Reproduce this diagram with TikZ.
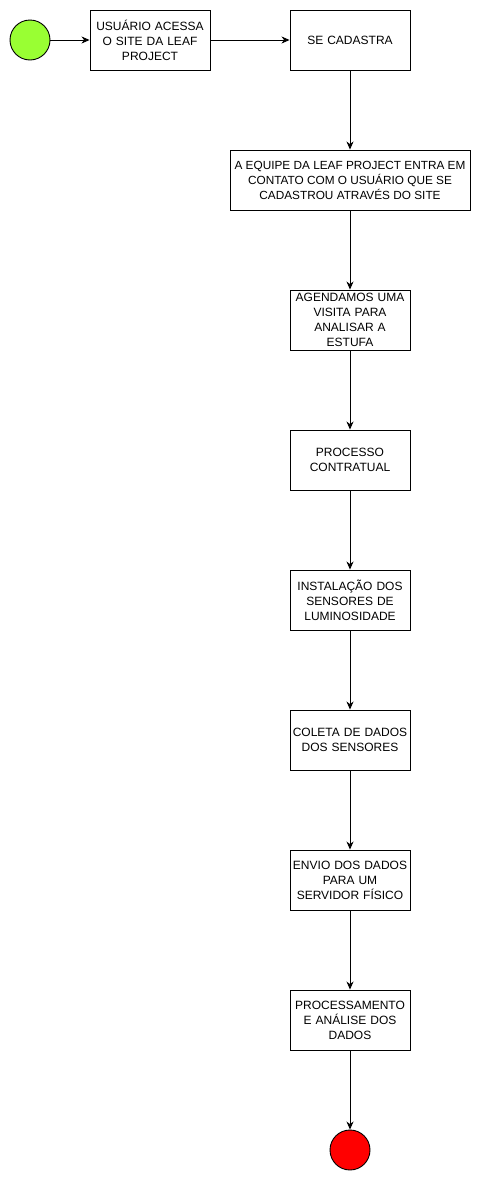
\documentclass[tikz,border=0pt]{standalone}
\usepackage{fontspec}
\setmainfont{Liberation Sans}
\usetikzlibrary{arrows.meta}
\definecolor{startgreen}{HTML}{99FF33}
\definecolor{endred}{HTML}{FF0000}
\begin{document}
\begin{tikzpicture}[x=1pt,y=-1pt,
  stepbox/.style={draw=black,line width=0.9pt,fill=white,align=center,inner sep=2pt,
    font=\fontsize{12}{15}\selectfont,minimum height=60pt},
  flow/.style={draw=black,line width=0.9pt,-{Stealth[length=8pt,width=7pt,inset=2.5pt]}},
  state/.style={circle,draw=black,line width=0.9pt,minimum size=40pt,inner sep=0pt}]
\useasboundingbox (0,0) rectangle (481,1181);
\node[state,fill=startgreen] (start) at (30,40) {};
\node[stepbox,minimum width=120pt,text width=116pt] (b1) at (150,40) {USUÁRIO ACESSA\\O SITE DA LEAF\\PROJECT};
\node[stepbox,minimum width=120pt,text width=116pt] (b2) at (350,40) {SE CADASTRA};
\node[stepbox,minimum width=240pt,font=\fontsize{11.8}{15}\selectfont] (b3) at (350,180) {A EQUIPE DA LEAF PROJECT ENTRA EM\\CONTATO COM O USUÁRIO QUE SE\\CADASTROU ATRAVÉS DO SITE};
\node[stepbox,minimum width=120pt,text width=116pt] (b4) at (350,320) {AGENDAMOS UMA\\VISITA PARA\\ANALISAR A\\ESTUFA};
\node[stepbox,minimum width=120pt,text width=116pt] (b5) at (350,460) {PROCESSO\\CONTRATUAL};
\node[stepbox,minimum width=120pt,text width=116pt] (b6) at (350,600) {INSTALAÇÃO DOS\\SENSORES DE\\LUMINOSIDADE};
\node[stepbox,minimum width=120pt,text width=116pt] (b7) at (350,740) {COLETA DE DADOS\\DOS SENSORES};
\node[stepbox,minimum width=120pt,text width=116pt] (b8) at (350,880) {ENVIO DOS DADOS\\PARA UM\\SERVIDOR FÍSICO};
\node[stepbox,minimum width=120pt,text width=116pt] (b9) at (350,1020) {PROCESSAMENTO\\E ANÁLISE DOS\\DADOS};
\node[state,fill=endred] (end) at (350,1150) {};
\draw[flow] (start) -- (b1);
\draw[flow] (b1) -- (b2);
\draw[flow] (b2) -- (b3);
\draw[flow] (b3) -- (b4);
\draw[flow] (b4) -- (b5);
\draw[flow] (b5) -- (b6);
\draw[flow] (b6) -- (b7);
\draw[flow] (b7) -- (b8);
\draw[flow] (b8) -- (b9);
\draw[flow] (b9) -- (end);
\end{tikzpicture}
\end{document}
